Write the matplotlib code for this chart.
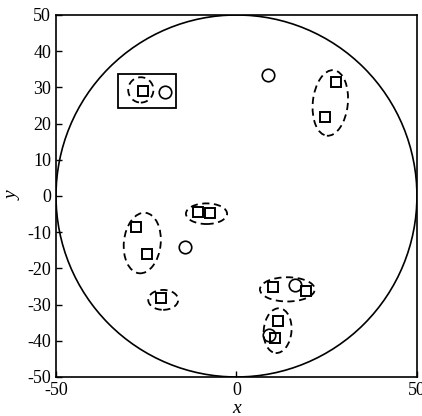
import matplotlib
matplotlib.use("Agg")
import matplotlib.pyplot as plt
from matplotlib.patches import Circle, Ellipse, Rectangle

plt.rcParams['font.family'] = ['Liberation Serif', 'DejaVu Serif']
plt.rcParams['axes.unicode_minus'] = False

# node positions
square_x = [-25.9, 27.6, 24.5, -10.7, -7.3, -27.8, -24.9, -21.0, 10.2, 19.3, 11.6, 10.7]
square_y = [29.0, 31.5, 21.8, -4.3, -4.8, -8.5, -16.0, -28.3, -25.2, -26.2, -34.5, -39.3]
circle_x = [-19.8, 8.7, -14.3, 16.2, 9.1]
circle_y = [28.7, 33.4, -14.0, -24.6, -38.4]

# cluster outlines: centre x, centre y, width, height, angle
ell_cx = [-26.5, 26.0, -8.3, -26.1, -20.3, 14.1, 11.4]
ell_cy = [29.3, 25.7, -4.9, -13.0, -28.7, -25.8, -37.2]
ell_w = [7.0, 9.7, 11.4, 10.2, 8.3, 15.2, 7.7]
ell_h = [7.0, 18.2, 5.7, 16.8, 5.5, 6.7, 12.4]
ell_ang = [0, -6, 0, -6, 0, 0, -5]

# highlighted box
box_x0, box_y0, box_w, box_h = -32.8, 24.3, 16.0, 9.4

region_r = 50

fig = plt.figure(figsize=(4.22, 4.16), dpi=100)
ax = fig.add_axes([0.1327, 0.0938, 0.8553, 0.8702])

ax.add_patch(Circle((0, 0), region_r, fill=False, color='black', lw=1.2))

for cx, cy, w, h, a in zip(ell_cx, ell_cy, ell_w, ell_h, ell_ang):
    ax.add_patch(Ellipse((cx, cy), w, h, angle=a, fill=False, color='black',
                         lw=1.3, linestyle=(0, (4, 2.5))))

ax.add_patch(Rectangle((box_x0, box_y0), box_w, box_h, fill=False,
                       color='black', lw=1.3))

ax.plot(square_x, square_y, 's', ms=7.5, mfc='none', mec='black', mew=1.4)
ax.plot(circle_x, circle_y, 'o', ms=9, mfc='none', mec='black', mew=1.2)

ax.set_xlim(-50, 50)
ax.set_ylim(-50, 50)
ax.set_xticks([-50, 0, 50])
ax.set_yticks(range(-50, 51, 10))
ax.tick_params(direction='in', labelsize=13, length=4, width=1,
               top=False, right=False)
for s in ax.spines.values():
    s.set_linewidth(1.2)

ax.set_xlabel('x', fontsize=14, style='italic', labelpad=1)
ax.set_ylabel('y', fontsize=14, style='italic')
ax.yaxis.set_label_coords(-0.094, 0.5)

fig.savefig('out.png', dpi=100)
